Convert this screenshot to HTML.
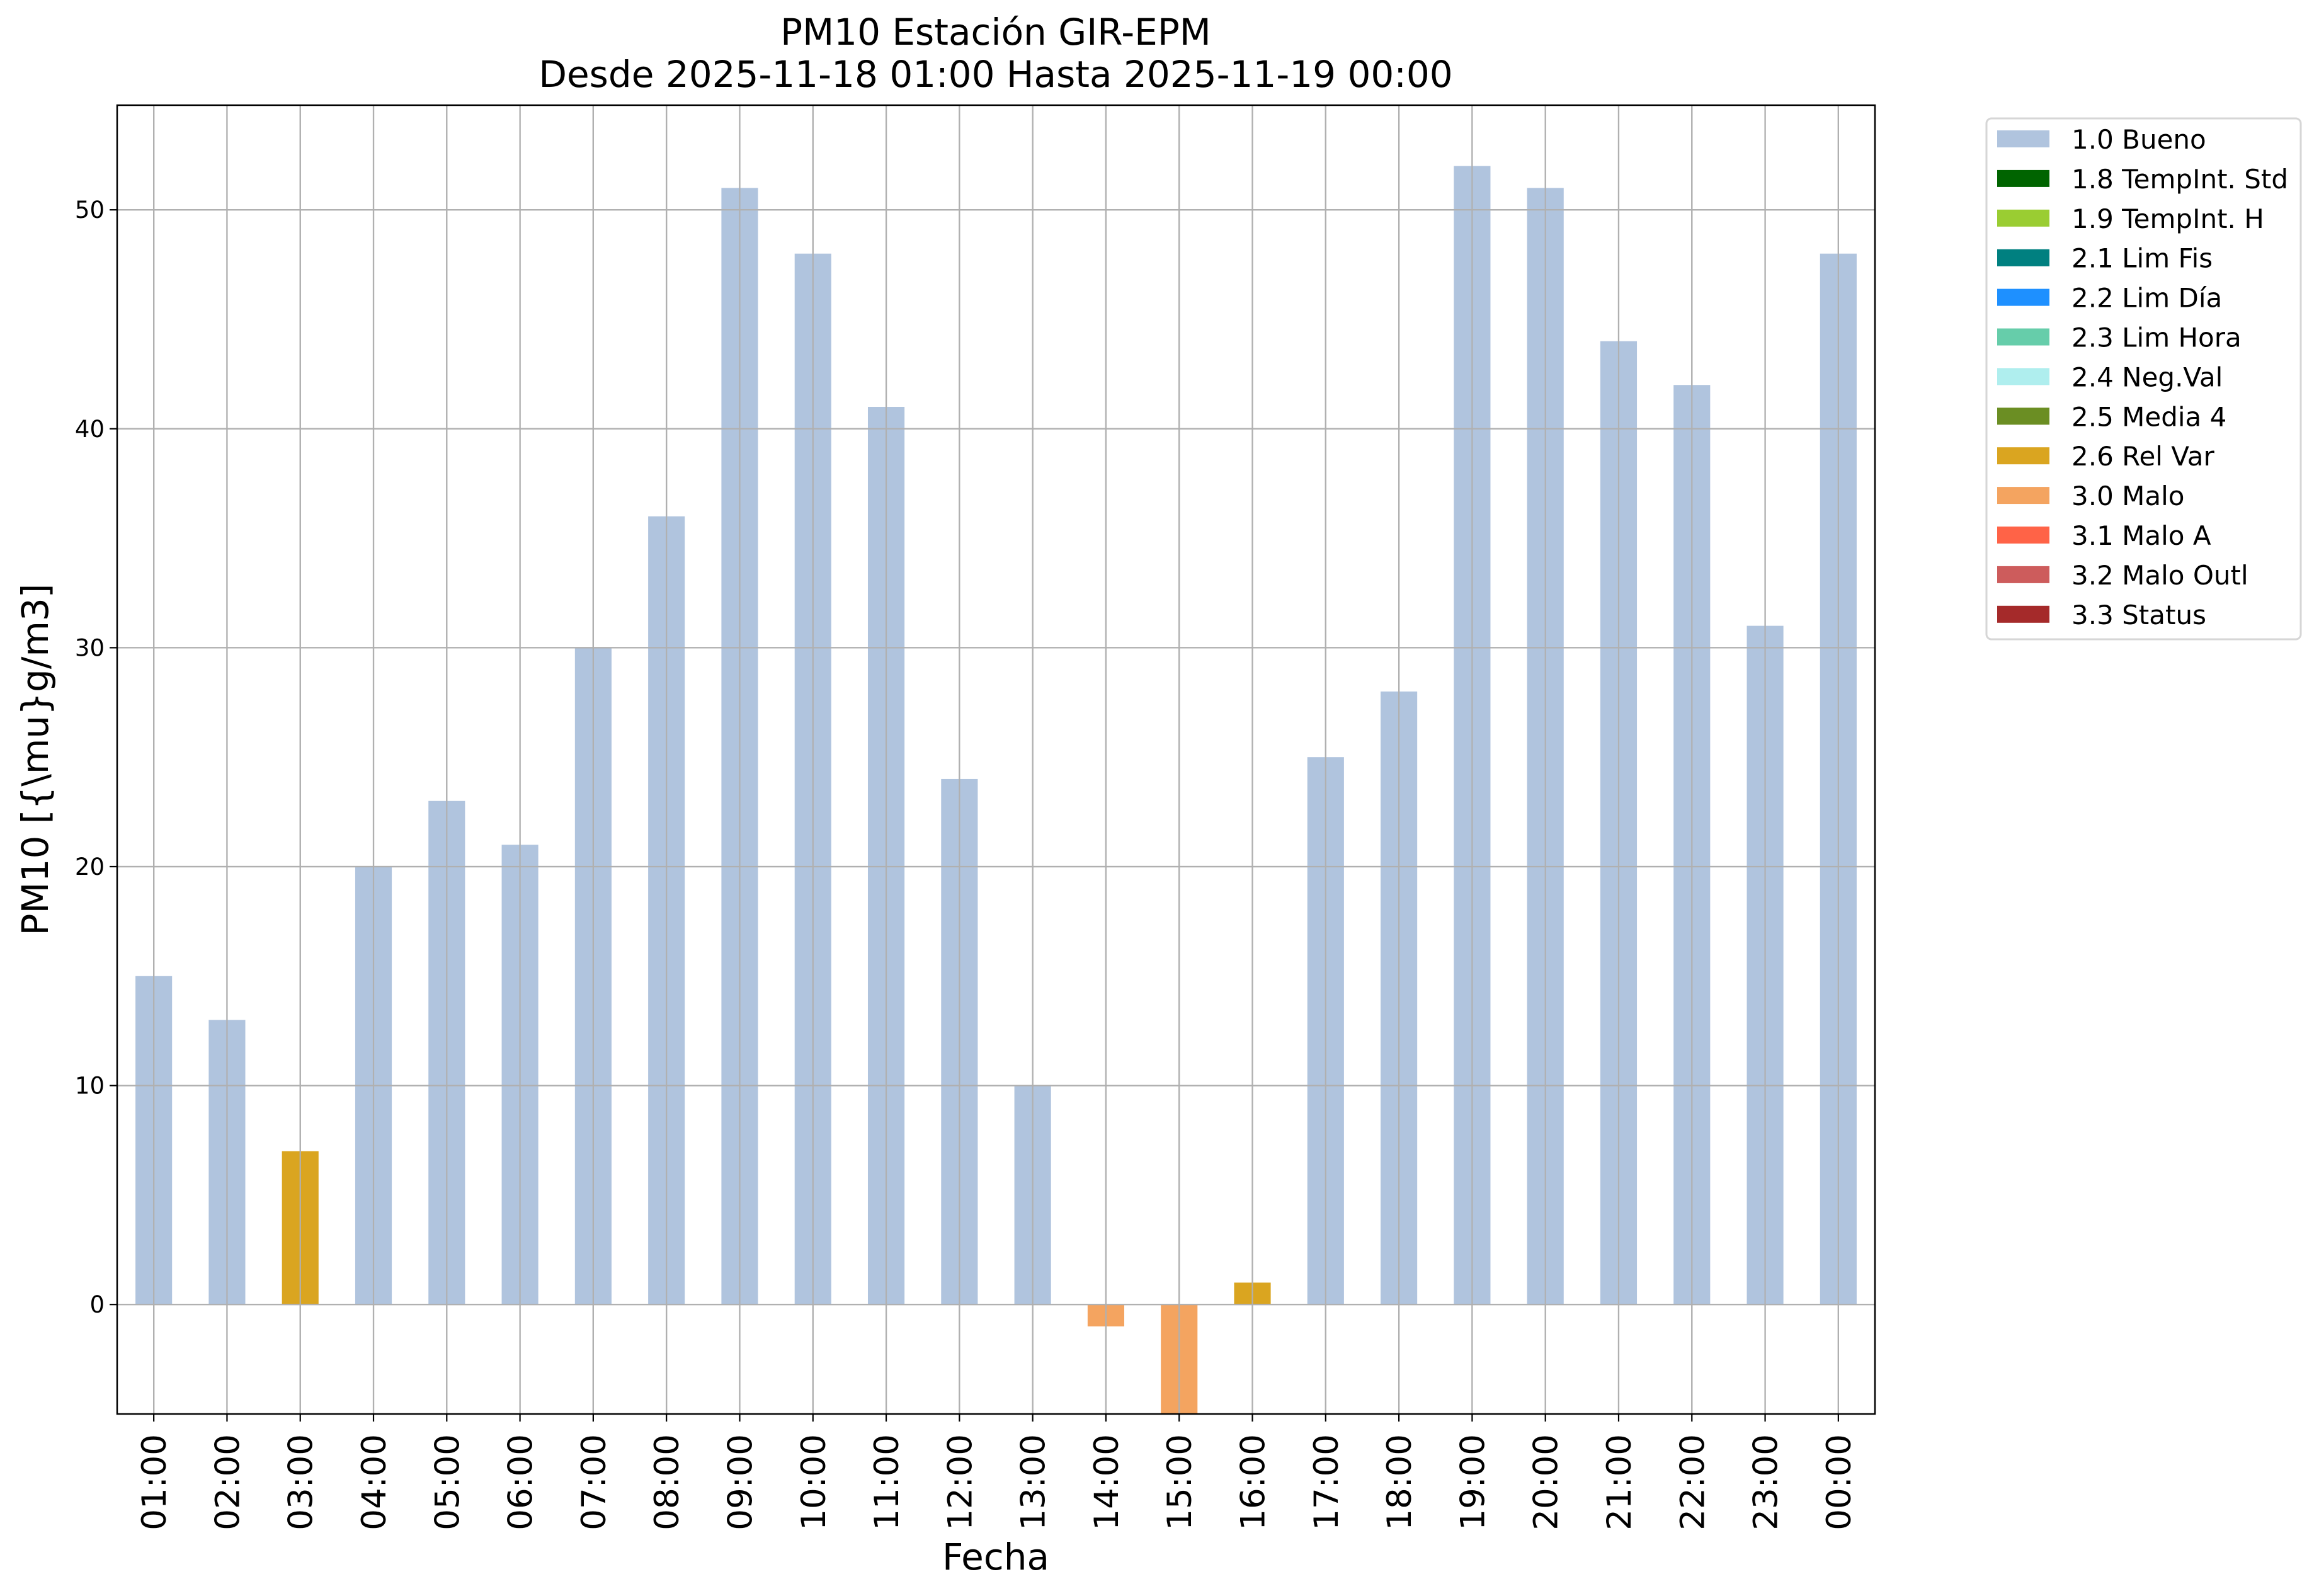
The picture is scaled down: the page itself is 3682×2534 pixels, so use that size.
<!DOCTYPE html>
<html>
<head>
<meta charset="utf-8">
<style>
html,body{margin:0;padding:0;background:#fff;}
svg{display:block;font-family:"DejaVu Sans","Liberation Sans",sans-serif;}
</style>
</head>
<body>
<svg id="chart" width="3682" height="2534" viewBox="0 0 3682 2534" xmlns="http://www.w3.org/2000/svg">
  <rect x="0" y="0" width="3682" height="2534" fill="#fff"/>
  <defs><clipPath id="plotclip"><rect x="186" y="167" width="2791" height="2078"/></clipPath></defs>
  <text x="1581" y="71" font-size="58" text-anchor="middle">PM10 Estación GIR-EPM</text>
  <text x="1581" y="138" font-size="58" text-anchor="middle">Desde 2025-11-18 01:00 Hasta 2025-11-19 00:00</text>
  <g id="grid"></g>
  <g id="bars" clip-path="url(#plotclip)"></g>
  <rect x="186" y="167" width="2791" height="2078" fill="none" stroke="#000" stroke-width="2.5"/>
  <g id="ticks"></g>
  <text x="1581" y="2492" font-size="58" text-anchor="middle">Fecha</text>
  <text x="76" y="1206" font-size="58" text-anchor="middle" transform="rotate(-90 76 1206)">PM10 [{\mu}g/m3]</text>
  <g id="legend"></g>
</svg>
<script>
const categories = ["01:00","02:00","03:00","04:00","05:00","06:00","07:00","08:00","09:00","10:00","11:00","12:00","13:00","14:00","15:00","16:00","17:00","18:00","19:00","20:00","21:00","22:00","23:00","00:00"];
const values = [15,13,7,20,23,21,30,36,51,48,41,24,10,-1,-6,1,25,28,52,51,44,42,31,48];
const flags = ["1.0","1.0","2.6","1.0","1.0","1.0","1.0","1.0","1.0","1.0","1.0","1.0","1.0","3.0","3.0","2.6","1.0","1.0","1.0","1.0","1.0","1.0","1.0","1.0"];
const yTicks = [0,10,20,30,40,50];
const legendLabels = ["1.0 Bueno","1.8 TempInt. Std","1.9 TempInt. H","2.1 Lim Fis","2.2 Lim Día","2.3 Lim Hora","2.4 Neg.Val","2.5 Media 4","2.6 Rel Var","3.0 Malo","3.1 Malo A","3.2 Malo Outl","3.3 Status"];
const legendColors = ["#b0c4de","#006400","#9acd32","#008080","#1e90ff","#66cdaa","#afeeee","#6b8e23","#daa520","#f4a460","#ff6347","#cd5c5c","#a52a2a"];

const NS = "http://www.w3.org/2000/svg";
const L = 186, R = 2977, T = 167, B = 2245;
const yMin = -5, yMax = 54.78;
const xScale = i => L + (i + 0.5) * (R - L) / categories.length;
const yScale = v => B - (v - yMin) / (yMax - yMin) * (B - T);
const bw = 0.5 * (R - L) / categories.length;
function mk(tag, attrs, parent){const e=document.createElementNS(NS,tag);for(const k in attrs)e.setAttribute(k,attrs[k]);parent.appendChild(e);return e;}
const colorOf = f => legendColors[legendLabels.findIndex(l => l.startsWith(f))];

const grid = document.getElementById('grid');
const bars = document.getElementById('bars');
const ticks = document.getElementById('ticks');
const legend = document.getElementById('legend');

yTicks.forEach(v => {
  const y = yScale(v);
  const g = mk('line',{x1:L,x2:R,y1:y,y2:y,stroke:'#b0b0b0','stroke-width':2.2},grid);
  
  
  const t = mk('line',{x1:L-12,x2:L,y1:y,y2:y,stroke:'#000','stroke-width':2.2},ticks);
  
  
  const tx = mk('text',{x:L-20,y:y+13,'font-size':37,'text-anchor':'end'},ticks);
  tx.textContent = v;
  
  
});
categories.forEach((c,i) => {
  const x = xScale(i);
  const g = mk('line',{x1:x,x2:x,y1:T,y2:B,stroke:'#b0b0b0','stroke-width':2.2},grid);
  
  
  const t = mk('line',{x1:x,x2:x,y1:B,y2:B+12,stroke:'#000','stroke-width':2.2},ticks);
  
  
  const tx = mk('text',{x:0,y:0,'font-size':53,'text-anchor':'end',transform:`translate(${x+19},${B+32}) rotate(-90)`},ticks);
  tx.textContent = c;
  
  
});
values.forEach((v,i) => {
  const x = xScale(i) - bw/2;
  const y0 = yScale(0), y1 = yScale(v);
  const r = mk('rect',{x:x,y:Math.min(y0,y1),width:bw,height:Math.abs(y1-y0),fill:colorOf(flags[i])},bars);
  
  
});
const grid2 = grid.cloneNode(true);


bars.parentNode.insertBefore(grid2, bars.nextSibling);

const box = mk('rect',{x:3154,y:188,width:499,height:827,rx:8,fill:'#fff',stroke:'#d6d6d6','stroke-width':3},legend);


legendLabels.forEach((lab,i) => {
  const cy = 221 + i * 62.9;
  const p = mk('rect',{x:3171,y:cy-14,width:83,height:27,fill:legendColors[i]},legend);
  
  
  const t = mk('text',{x:3289,y:cy+15,'font-size':42},legend);
  t.textContent = lab;
  
  
});
</script>
</body>
</html>
